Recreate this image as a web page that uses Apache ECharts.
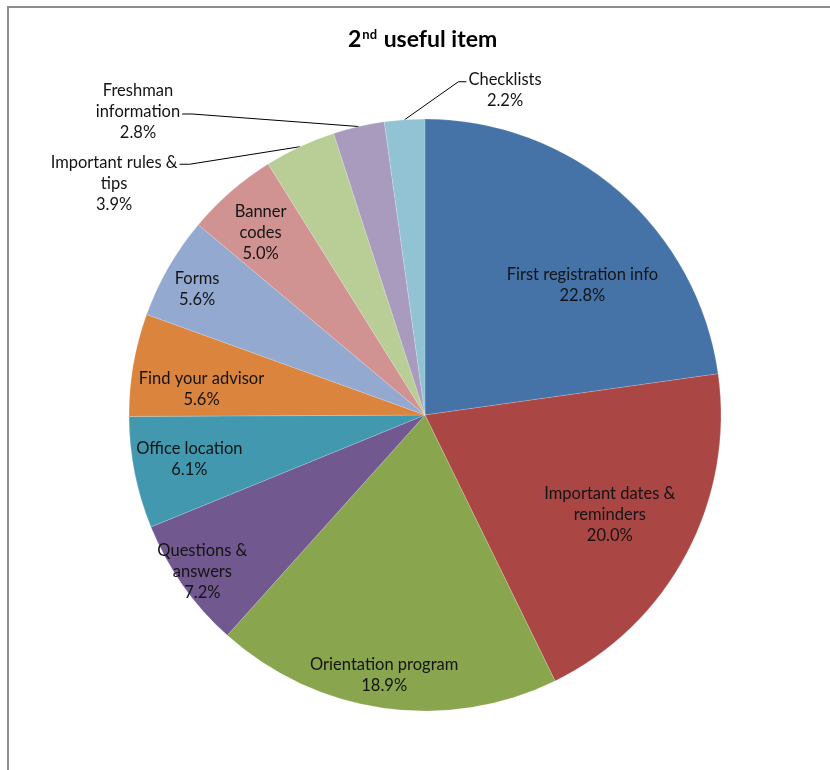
<!DOCTYPE html>
<html>
<head>
<meta charset="utf-8">
<script src="https://cdn.jsdelivr.net/npm/echarts@6/dist/echarts.min.js"></script>
<style>
  html, body { margin: 0; padding: 0; background: #ffffff; }
  #chart { position: absolute; left: 0; top: 0; width: 830px; height: 770px; }
  #frame { position: absolute; left: 7px; top: 6px; width: 840px; height: 780px; z-index: 2;
           pointer-events: none; border-left: 2px solid #8c8c8c; border-top: 2px solid #8c8c8c; }
</style>
</head>
<body>
<div id="chart"></div>
<div id="frame"></div>
<script>
// Items, in clockwise order starting at 12 o'clock
const categories = [
  'First registration info',
  'Important dates &\nreminders',
  'Orientation program',
  'Questions &\nanswers',
  'Office location',
  'Find your advisor',
  'Forms',
  'Banner\ncodes',
  'Important rules &\ntips',
  'Freshman\ninformation',
  'Checklists'
];
// Share of responses (%)
const shares = [22.8, 20.0, 18.9, 7.2, 6.1, 5.6, 5.6, 5.0, 3.9, 2.8, 2.2];

const sliceColors = ['#4572A7', '#AA4643', '#89A54E', '#71588F', '#4198AF', '#DB843D',
                     '#93A9CF', '#D19392', '#B9CD96', '#A99BBD', '#92C3D4'];

// Label placement: radial distance (fraction of radius) and angular nudge (deg) from the slice middle.
// Outside labels also say which side the leader line attaches to and on which text row.
const labelPlacement = [
  { r: 0.69, da: 9.4 },
  { r: 0.71, da: 0.5 },
  { r: 0.89, da: 1.0 },
  { r: 0.92, da: 0.0 },
  { r: 0.81, da: 0.6 },
  { r: 0.76, da: -3.2 },
  { r: 0.88, da: -1.0 },
  { r: 0.83, da: -1.0 },
  { r: 1.31, da: -28.3, side: 'right', row: 0 },
  { r: 1.41, da: -30.5, side: 'right', row: 1 },
  { r: 1.13, da: 17.8, side: 'left', row: 0 }
];

const PIE_CX = 425, PIE_CY = 415, PIE_R = 296;
const LINE_H = 21;

const total = shares.reduce((a, b) => a + b, 0);
const midAngles = [];
(function () {
  let acc = 0;
  shares.forEach(v => { midAngles.push((acc + v / 2) / total * 360); acc += v; });
})();

function polar(angleDeg, dist) {
  const a = angleDeg * Math.PI / 180;
  return [PIE_CX + dist * Math.sin(a), PIE_CY - dist * Math.cos(a)];
}

const data = shares.map((v, i) => {
  const outside = !!labelPlacement[i].side;
  return {
    name: categories[i],
    value: v,
    itemStyle: { color: sliceColors[i] },
    label: { position: outside ? 'outside' : 'inside' },
    labelLine: { show: outside }
  };
});

const chart = echarts.init(document.getElementById('chart'), null, { renderer: 'canvas' });

chart.setOption({
  backgroundColor: '#ffffff',
  animation: false,
  title: {
    text: '{b|2}{s|nd}{b| useful item}',
    left: 343,
    top: 23,
    textStyle: {
      rich: {
        b: { fontFamily: 'Lato', fontWeight: 'bold', fontSize: 23, color: '#000000' },
        s: { fontFamily: 'Lato', fontWeight: 'bold', fontSize: 13, color: '#000000',
             verticalAlign: 'top', padding: [0, 1, 10, 1] }
      }
    }
  },
  series: [{
    type: 'pie',
    center: [PIE_CX, PIE_CY],
    radius: [0, PIE_R],
    startAngle: 90,
    clockwise: true,
    avoidLabelOverlap: false,
    itemStyle: { borderColor: 'rgba(255,255,255,0.35)', borderWidth: 0.5 },
    emphasis: { disabled: true },
    label: {
      show: true,
      fontFamily: 'Lato',
      fontSize: 16.5,
      lineHeight: LINE_H,
      color: '#141414',
      align: 'center',
      formatter: p => p.name + '\n' + p.value.toFixed(1) + '%'
    },
    labelLine: { lineStyle: { color: '#000000', width: 1 } },
    labelLayout: function (params) {
      const i = params.dataIndex;
      const pl = labelPlacement[i];
      const [cx, cy] = polar(midAngles[i] + pl.da, pl.r * PIE_R);
      const out = { x: cx, y: cy, align: 'center', verticalAlign: 'middle' };
      if (pl.side) {
        const w = params.labelRect.width, h = params.labelRect.height;
        const attachY = cy - h / 2 + LINE_H * (pl.row + 0.5) + 2;
        const attachX = pl.side === 'right' ? cx + w / 2 + 2 : cx - w / 2 - 2;
        const elbowX = pl.side === 'right' ? attachX + 10 : attachX - 8;
        out.labelLinePoints = [polar(midAngles[i], PIE_R), [elbowX, attachY], [attachX, attachY]];
      }
      return out;
    },
    data: data
  }]
});
</script>
</body>
</html>
